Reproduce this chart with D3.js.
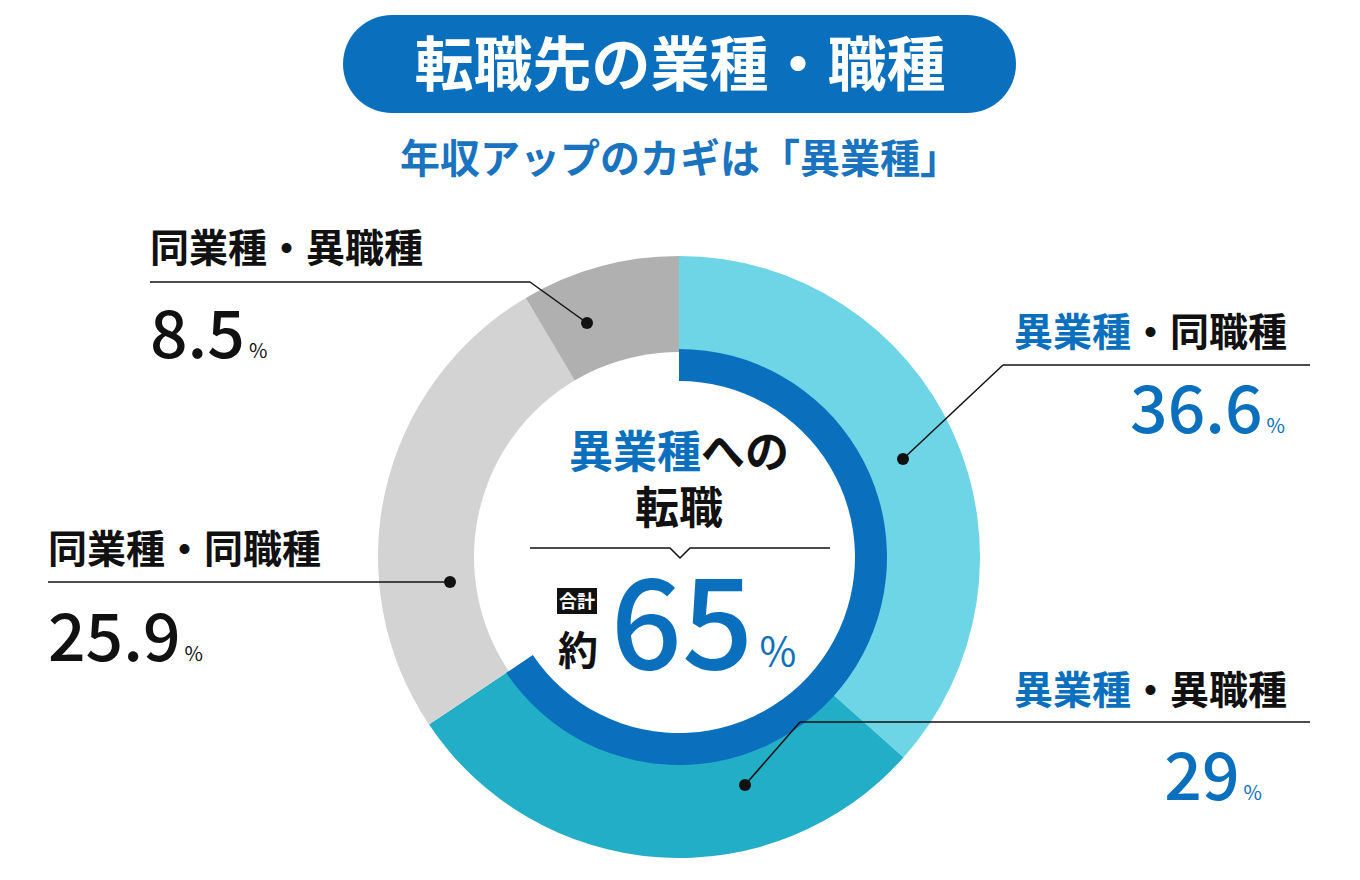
<!DOCTYPE html><html><head><meta charset="utf-8">
<script src="https://cdn.jsdelivr.net/npm/d3@7"></script>
<style>body{margin:0;background:#fff}text{font-family:"Noto Sans CJK JP","Noto Sans",sans-serif}</style></head><body>
<script>
const categories=["異業種・同職種","異業種・異職種","同業種・同職種","同業種・異職種"];
const values=[36.6,29,25.9,8.5];
const valueLabels=["36.6","29","25.9","8.5"];
const colors=["#6dd5e5","#22aec6","#d3d3d3","#b0b0b0"];
const totalDiff=65;
const W=1360,H=880,cx=679,cy=557;
const svg=d3.select("body").append("svg").attr("width",W).attr("height",H);
const blue="#0a70bd";
svg.append("rect").attr("x",343).attr("y",15).attr("width",673).attr("height",98).attr("rx",49).attr("fill",blue);
svg.append("text").attr("x",680).attr("y",86).attr("text-anchor","middle").attr("fill","#fff").attr("font-size",59).attr("font-weight",700).text("転職先の業種・職種");
svg.append("text").attr("x",680).attr("y",173).attr("text-anchor","middle").attr("fill","#1a73bf").attr("font-size",40).attr("font-weight",700).text("年収アップのカギは「異業種」");
const g=svg.append("g").attr("transform",`translate(${cx},${cy})`);
const pie=d3.pie().sort(null).value(d=>d);
const arcs=pie(values);
const arc=d3.arc().innerRadius(200).outerRadius(301);
g.selectAll("path.s").data(arcs).join("path").attr("d",arc).attr("fill",(d,i)=>colors[i]);
g.append("circle").attr("r",205).attr("fill","#fff");
const ang=2*Math.PI*(values[0]+values[1])/100;
g.append("path").attr("d",d3.arc().innerRadius(176).outerRadius(208).startAngle(0).endAngle(ang)()).attr("fill",blue);
const L=[
 {cat:0,right:true,tx:1287,ty:346,ly:365,lx1:1003,lx2:1310,dot:[903,459],vy:433,vx:1285},
 {cat:1,right:true,tx:1287,ty:704,ly:722,lx1:800,lx2:1310,dot:[745,785],vy:800,vx:1262},
 {cat:2,right:false,tx:48,ty:563,ly:582,lx1:48,lx2:450,dot:[450,582],vy:661,vx:48},
 {cat:3,right:false,tx:150,ty:262,ly:282,lx1:150,lx2:530,dot:[587,323],vy:358,vx:150}];
L.forEach(l=>{
 const name=categories[l.cat],parts=name.split("・");
 const t=svg.append("text").attr("x",l.tx).attr("y",l.ty).attr("text-anchor",l.right?"end":"start").attr("font-size",39).attr("font-weight",700);
 t.append("tspan").attr("fill",l.right?blue:"#111").text(parts[0]);
 t.append("tspan").attr("fill","#111").text("・"+parts[1]);
 const ex=l.right?l.lx1:l.lx2;
 svg.append("path").attr("d",`M${l.lx1},${l.ly}H${l.lx2}`).attr("stroke","#111").attr("stroke-width",1.5);
 svg.append("path").attr("d",`M${ex},${l.ly}L${l.dot[0]},${l.dot[1]}`).attr("stroke","#111").attr("stroke-width",1.5);
 svg.append("circle").attr("cx",l.dot[0]).attr("cy",l.dot[1]).attr("r",6).attr("fill","#111");
 const v=svg.append("text").attr("x",l.vx).attr("y",l.vy).attr("text-anchor",l.right?"end":"start").attr("fill",l.right?blue:"#111");
 v.append("tspan").attr("font-size",66).attr("font-weight",500).text(valueLabels[l.cat]);
 v.append("tspan").attr("font-size",20).attr("dx",4).text("%");
});
const c1=svg.append("text").attr("x",cx).attr("y",468).attr("text-anchor","middle").attr("font-size",44).attr("font-weight",700);
c1.append("tspan").attr("fill",blue).text("異業種");c1.append("tspan").attr("fill","#111").text("への");
svg.append("text").attr("x",cx).attr("y",524).attr("text-anchor","middle").attr("font-size",44).attr("font-weight",700).attr("fill","#111").text("転職");
svg.append("path").attr("d","M530,548H670L680,558L690,548H830").attr("fill","none").attr("stroke","#111").attr("stroke-width",1.5);
svg.append("rect").attr("x",557).attr("y",588).attr("width",40).attr("height",26).attr("fill","#111");
svg.append("text").attr("x",577).attr("y",608).attr("text-anchor","middle").attr("fill","#fff").attr("font-size",18).attr("font-weight",700).text("合計");
svg.append("text").attr("x",578).attr("y",665).attr("text-anchor","middle").attr("fill","#111").attr("font-size",40).attr("font-weight",700).text("約");
svg.append("text").attr("x",682).attr("y",669).attr("text-anchor","middle").attr("fill",blue).attr("font-size",125).attr("font-weight",500).text(totalDiff);
svg.append("text").attr("x",778).attr("y",666).attr("text-anchor","middle").attr("fill",blue).attr("font-size",40).text("%");
</script></body></html>
